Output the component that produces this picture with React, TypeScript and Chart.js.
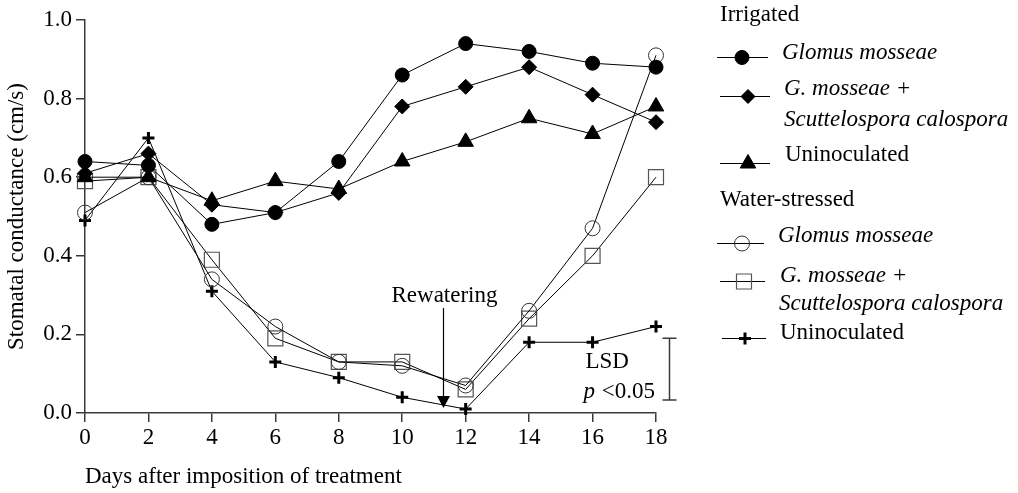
import React, { useEffect, useRef } from 'react';
import { Chart, registerables } from 'chart.js';

Chart.register(...registerables);

// ---- data ----
const days = [0, 2, 4, 6, 8, 10, 12, 14, 16, 18];
const irrGlomus = [0.64, 0.63, 0.48, 0.51, 0.64, 0.86, 0.94, 0.92, 0.89, 0.88];
const irrGmSc = [0.61, 0.66, 0.53, 0.51, 0.56, 0.78, 0.83, 0.88, 0.81, 0.74];
const irrUninoc = [0.6, 0.6, 0.54, 0.59, 0.57, 0.64, 0.69, 0.75, 0.71, 0.78];
const wsGlomus = [0.51, 0.6, 0.34, 0.22, 0.13, 0.12, 0.07, 0.26, 0.47, 0.91];
const wsGmSc = [0.59, 0.6, 0.39, 0.19, 0.13, 0.13, 0.06, 0.24, 0.4, 0.6];
const wsUninoc = [0.49, 0.7, 0.31, 0.13, 0.09, 0.04, 0.01, 0.18, 0.18, 0.22];
const xTicks = [0, 2, 4, 6, 8, 10, 12, 14, 16, 18];
const yTicks = [0, 0.2, 0.4, 0.6, 0.8, 1.0];

// annotation values (data units)
const rewaterDay = 11.3;
const rewaterTop = 0.267;
const rewaterTip = 0.013;
const lsdDay = 18.42;
const lsdLow = 0.033;
const lsdHigh = 0.19;

const FAMILY = "'Liberation Serif', 'Times New Roman', serif";
const FS = 23;
const AXIS = '#3a3a3a';

type Style = 'circle' | 'rectRot' | 'triangle' | 'rect' | 'cross';

function drawMarker(ctx: CanvasRenderingContext2D, style: Style, x: number, y: number, filled: boolean, color: string, r: number, bw: number) {
  ctx.save();
  ctx.beginPath();
  ctx.lineWidth = bw;
  ctx.strokeStyle = color;
  ctx.fillStyle = color;
  if (style === 'circle') {
    ctx.arc(x, y, r, 0, Math.PI * 2);
  } else if (style === 'rectRot') {
    ctx.moveTo(x - r, y); ctx.lineTo(x, y - r); ctx.lineTo(x + r, y); ctx.lineTo(x, y + r); ctx.closePath();
  } else if (style === 'triangle') {
    ctx.moveTo(x, y - r);
    ctx.lineTo(x + r * Math.sin(2 * Math.PI / 3), y - r * Math.cos(2 * Math.PI / 3));
    ctx.lineTo(x + r * Math.sin(4 * Math.PI / 3), y - r * Math.cos(4 * Math.PI / 3));
    ctx.closePath();
  } else if (style === 'rect') {
    const s = r * Math.SQRT1_2;
    ctx.rect(x - s, y - s, 2 * s, 2 * s);
  } else if (style === 'cross') {
    ctx.moveTo(x - r, y); ctx.lineTo(x + r, y); ctx.moveTo(x, y - r); ctx.lineTo(x, y + r);
  }
  if (filled && style !== 'cross') ctx.fill();
  ctx.stroke();
  ctx.restore();
}

const legendRows: { text: string; italic: boolean; x: number; y: number }[] = [
  { text: 'Irrigated', italic: false, x: 720, y: 15 },
  { text: 'Glomus mosseae', italic: true, x: 782, y: 53 },
  { text: 'G. mosseae +', italic: true, x: 784, y: 89 },
  { text: 'Scuttelospora calospora', italic: true, x: 784, y: 120 },
  { text: 'Uninoculated', italic: false, x: 785, y: 155 },
  { text: 'Water-stressed', italic: false, x: 720, y: 200 },
  { text: 'Glomus mosseae', italic: true, x: 778, y: 236 },
  { text: 'G. mosseae +', italic: true, x: 780, y: 276 },
  { text: 'Scuttelospora calospora', italic: true, x: 779, y: 304 },
  { text: 'Uninoculated', italic: false, x: 780, y: 333 },
];

const legendMarks: { style: Style; filled: boolean; color: string; r: number; bw: number; x0: number; x1: number; mx: number; y: number }[] = [
  { style: 'circle', filled: true, color: '#000', r: 7, bw: 1, x0: 717, x1: 768, mx: 742, y: 57.5 },
  { style: 'rectRot', filled: true, color: '#000', r: 7, bw: 1, x0: 720, x1: 770, mx: 748, y: 96.5 },
  { style: 'triangle', filled: true, color: '#000', r: 9, bw: 1, x0: 720, x1: 770, mx: 748, y: 163.5 },
  { style: 'circle', filled: false, color: '#333', r: 7.5, bw: 1, x0: 717, x1: 764, mx: 742, y: 243.5 },
  { style: 'rect', filled: false, color: '#555', r: 10.6, bw: 1.2, x0: 720, x1: 765, mx: 744, y: 281.5 },
  { style: 'cross', filled: false, color: '#000', r: 6, bw: 3, x0: 722, x1: 766, mx: 745, y: 338.5 },
];

const annotationPlugin = {
  id: 'figAnnotations',
  afterDraw(chart: any) {
    const { ctx, scales } = chart;
    const xs = scales.x;
    const ys = scales.y;
    ctx.save();

    // Rewatering arrow
    const ax = Math.round(xs.getPixelForValue(rewaterDay)) + 0.5;
    const aTop = ys.getPixelForValue(rewaterTop);
    const aTip = ys.getPixelForValue(rewaterTip);
    ctx.strokeStyle = '#000';
    ctx.fillStyle = '#000';
    ctx.lineWidth = 1.2;
    ctx.beginPath();
    ctx.moveTo(ax, aTop);
    ctx.lineTo(ax, aTip - 10);
    ctx.stroke();
    ctx.beginPath();
    ctx.moveTo(ax - 6.5, aTip - 12);
    ctx.lineTo(ax + 6.5, aTip - 12);
    ctx.lineTo(ax, aTip);
    ctx.closePath();
    ctx.fill();
    ctx.font = `${FS}px ${FAMILY}`;
    ctx.textAlign = 'center';
    ctx.textBaseline = 'middle';
    ctx.fillText('Rewatering', ax + 1, aTop - 12);

    // LSD bar
    const lx = Math.round(xs.getPixelForValue(lsdDay)) + 0.5;
    const lTop = ys.getPixelForValue(lsdHigh);
    const lBot = ys.getPixelForValue(lsdLow);
    ctx.strokeStyle = AXIS;
    ctx.lineWidth = 1.5;
    ctx.beginPath();
    ctx.moveTo(lx, lTop); ctx.lineTo(lx, lBot);
    ctx.moveTo(lx - 7, lTop); ctx.lineTo(lx + 7, lTop);
    ctx.moveTo(lx - 7, lBot); ctx.lineTo(lx + 7, lBot);
    ctx.stroke();
    ctx.fillStyle = '#000';
    ctx.textAlign = 'left';
    ctx.font = `${FS}px ${FAMILY}`;
    ctx.fillText('LSD', lx - 84, lTop + 24);
    ctx.font = `italic ${FS}px ${FAMILY}`;
    const px = lx - 86;
    ctx.fillText('p', px, lTop + 54);
    const pw = ctx.measureText('p').width;
    ctx.font = `${FS}px ${FAMILY}`;
    ctx.fillText(' <0.05', px + pw + 1, lTop + 54);

    // Legend
    for (const m of legendMarks) {
      ctx.strokeStyle = '#000';
      ctx.lineWidth = 1;
      ctx.beginPath();
      ctx.moveTo(m.x0, m.y);
      ctx.lineTo(m.x1, m.y);
      ctx.stroke();
      drawMarker(ctx, m.style, m.mx, m.y, m.filled, m.color, m.r, m.bw);
    }
    ctx.fillStyle = '#000';
    ctx.textAlign = 'left';
    ctx.textBaseline = 'middle';
    for (const r of legendRows) {
      ctx.font = `${r.italic ? 'italic ' : ''}${FS}px ${FAMILY}`;
      ctx.fillText(r.text, r.x, r.y);
    }
    ctx.restore();
  },
};

function series(values: number[]) {
  return days.map((d, i) => ({ x: d, y: values[i] }));
}

export default function App() {
  const ref = useRef<HTMLCanvasElement>(null);

  useEffect(() => {
    if (!ref.current) return;
    const common = { borderColor: '#000', borderWidth: 1, showLine: true, clip: false as const, tension: 0 };
    const chart = new Chart(ref.current, {
      type: 'scatter',
      data: {
        datasets: [
          { ...common, label: 'Irrigated Glomus mosseae', data: series(irrGlomus), pointStyle: 'circle', pointRadius: 7, pointBackgroundColor: '#000', pointBorderColor: '#000', pointBorderWidth: 1 },
          { ...common, label: 'Irrigated G. mosseae + Scuttelospora calospora', data: series(irrGmSc), pointStyle: 'rectRot', pointRadius: 7.5, pointBackgroundColor: '#000', pointBorderColor: '#000', pointBorderWidth: 1 },
          { ...common, label: 'Irrigated Uninoculated', data: series(irrUninoc), pointStyle: 'triangle', pointRadius: 9, pointBackgroundColor: '#000', pointBorderColor: '#000', pointBorderWidth: 1 },
          { ...common, label: 'Water-stressed Glomus mosseae', data: series(wsGlomus), pointStyle: 'circle', pointRadius: 7.5, pointBackgroundColor: 'rgba(0,0,0,0)', pointBorderColor: '#333', pointBorderWidth: 1 },
          { ...common, label: 'Water-stressed G. mosseae + Scuttelospora calospora', data: series(wsGmSc), pointStyle: 'rect', pointRadius: 10.6, pointBackgroundColor: 'rgba(0,0,0,0)', pointBorderColor: '#555', pointBorderWidth: 1.2 },
          { ...common, label: 'Water-stressed Uninoculated', data: series(wsUninoc), pointStyle: 'cross', pointRadius: 6, pointBackgroundColor: '#000', pointBorderColor: '#000', pointBorderWidth: 3 },
        ],
      },
      options: {
        animation: false,
        responsive: false,
        devicePixelRatio: 1,
        layout: { padding: { left: 0, right: 362, top: 20, bottom: 0 } },
        plugins: { legend: { display: false }, tooltip: { enabled: false } },
        scales: {
          x: {
            type: 'linear',
            min: 0,
            max: 18,
            afterBuildTicks: (s: any) => { s.ticks = xTicks.map((v) => ({ value: v })); },
            afterFit: (s: any) => { s.height = 80; },
            ticks: { color: '#000', font: { family: FAMILY, size: FS }, padding: 2, maxRotation: 0, autoSkip: false, callback: (v: any) => String(v) },
            grid: { drawOnChartArea: false, drawTicks: true, tickLength: 9, color: AXIS, lineWidth: 1.5 },
            border: { display: true, color: AXIS, width: 1.5 },
            title: { display: true, text: 'Days after imposition of treatment', align: 'start', color: '#000', font: { family: FAMILY, size: FS }, padding: { top: 0, bottom: 2 } },
          },
          y: {
            type: 'linear',
            min: 0,
            max: 1,
            afterBuildTicks: (s: any) => { s.ticks = yTicks.map((v) => ({ value: v })); },
            afterFit: (s: any) => { s.width = 85; },
            ticks: { color: '#000', font: { family: FAMILY, size: FS }, padding: 4, autoSkip: false, callback: (v: any) => Number(v).toFixed(1) },
            grid: { drawOnChartArea: false, drawTicks: true, tickLength: 9, color: AXIS, lineWidth: 1.5 },
            border: { display: true, color: AXIS, width: 1.5 },
            title: { display: true, text: 'Stomatal conductance (cm/s)', color: '#000', font: { family: FAMILY, size: FS }, padding: { top: 3, bottom: 0 } },
          },
        },
      },
      plugins: [annotationPlugin],
    } as any);
    return () => chart.destroy();
  }, []);

  return (
    <div style={{ position: 'absolute', left: 0, top: 0, width: 1018, height: 493, background: '#fff' }}>
      <canvas ref={ref} width={1018} height={493} style={{ display: 'block' }} />
    </div>
  );
}
